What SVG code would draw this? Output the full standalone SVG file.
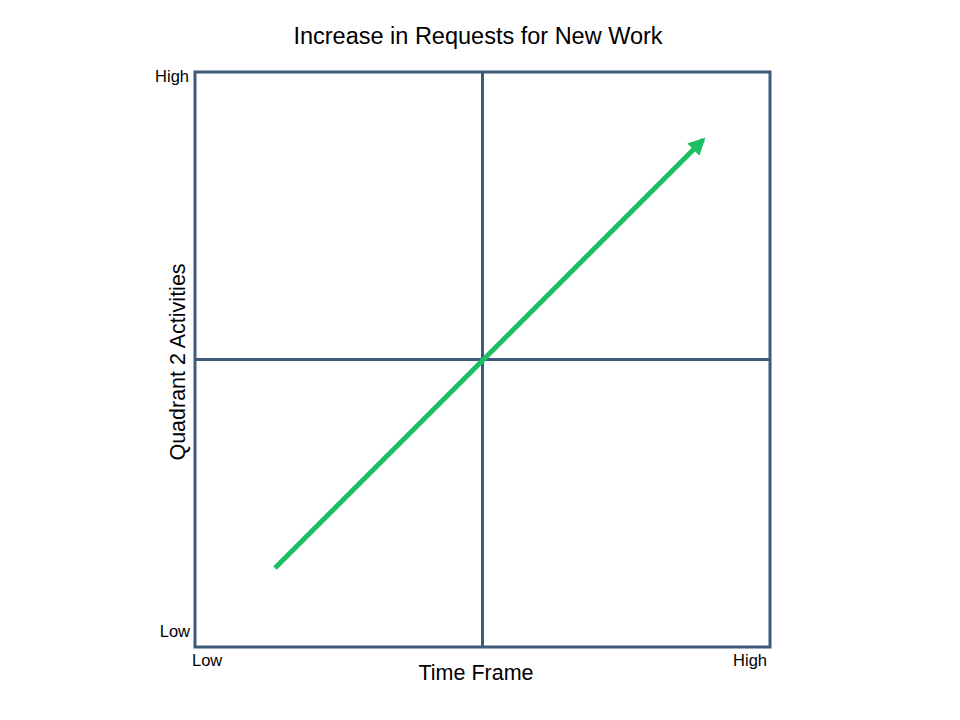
<svg xmlns="http://www.w3.org/2000/svg" width="960" height="720" viewBox="0 0 960 720">
<defs>
<style>
.ax{stroke:#3d5a7a;stroke-width:3;fill:none}
.t{font-family:"Liberation Sans",Arial,sans-serif;fill:#000}
.s{font-size:16.5px}
.m{font-size:21.5px}
</style>
<marker id="ah" viewBox="0 0 10 10" refX="8" refY="5" markerWidth="3.4" markerHeight="3.4" orient="auto" markerUnits="strokeWidth">
<path d="M0,0 L10,5 L0,10 z" fill="#1dbf63"/>
</marker>
</defs>
<rect width="960" height="720" fill="#fff"/>
<g id="grid">
<rect class="ax" x="195" y="72" width="575" height="575"/>
<line class="ax" x1="482.5" y1="72" x2="482.5" y2="647"/>
<line class="ax" x1="195" y1="359.5" x2="770" y2="359.5"/>
</g>
<g id="connectors">
<line x1="275" y1="568" x2="703" y2="140" stroke="#1dbf63" stroke-width="5" marker-end="url(#ah)"/>
</g>
<g id="labels">
<text class="t" x="478" y="44" font-size="23.5" text-anchor="middle">Increase in Requests for New Work</text>
<text class="t s" x="189" y="82" text-anchor="end">High</text>
<text class="t s" x="190" y="637" text-anchor="end">Low</text>
<text class="t s" x="192" y="666">Low</text>
<text class="t s" x="767" y="666" text-anchor="end">High</text>
<text class="t m" x="476" y="680" text-anchor="middle">Time Frame</text>
<text class="t m" transform="translate(185,362) rotate(-90)" text-anchor="middle">Quadrant 2 Activities</text>
</g>
</svg>
